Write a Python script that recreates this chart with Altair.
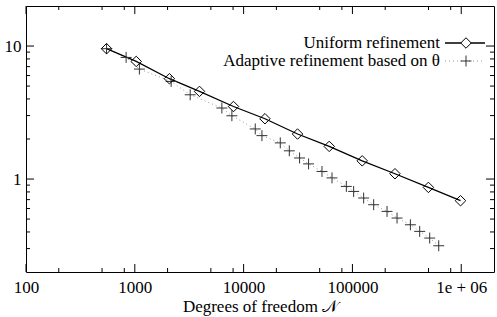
import altair as alt
import pandas as pd

# ---- data ----
uniform_dof = [550, 1030, 2080, 3930, 8070, 15700, 31300, 61200, 123000, 246000, 499000, 985000]
uniform_err = [9.55, 7.66, 5.68, 4.56, 3.51, 2.84, 2.18, 1.76, 1.37, 1.096, 0.865, 0.687]

adaptive_dof = [550, 832, 1102, 2158, 3228, 6310, 7800, 12790, 14730, 21720, 26290, 32670,
                39540, 52500, 64900, 87900, 102600, 126800, 156700, 208000, 257000, 341000,
                415000, 513000, 621000]
adaptive_err = [9.55, 8.21, 6.71, 5.42, 4.30, 3.42, 2.99, 2.38, 2.12, 1.87, 1.63, 1.44,
                1.30, 1.14, 1.02, 0.88, 0.807, 0.72, 0.641, 0.571, 0.509, 0.453,
                0.404, 0.36, 0.315]

x_major = [100, 1000, 10000, 100000, 1000000]
x_major_labels = ["100", "1000", "10000", "100000", "1e + 06"]
x_minor = [m * d for d in [100, 1000, 10000, 100000, 1000000] for m in (2, 5, 8)]
x_minor = [v for v in x_minor if v < 2000000]
y_major = [1, 10]
y_major_labels = ["1", "10"]
y_minor = [0.3, 0.4, 0.5, 0.6, 0.7, 0.8, 0.9, 2, 3, 4, 5, 6, 7, 8, 9]

legend_labels = ["Uniform refinement", "Adaptive refinement based on \u03b8"]
x_title = "Degrees of freedom \U0001D4A9"

W, H = 468, 266
FONT = "Liberation Serif"
FS = 17

uni = pd.DataFrame({"N": uniform_dof, "err": uniform_err})
ada = pd.DataFrame({"N": adaptive_dof, "err": adaptive_err})

label_expr_x = " : ".join(
    [f"datum.value == {v} ? '{l}'" for v, l in zip(x_major, x_major_labels)]
) + " : ''"
label_expr_y = " : ".join(
    [f"datum.value == {v} ? '{l}'" for v, l in zip(y_major, y_major_labels)]
) + " : ''"

xs = alt.Scale(type="log", domain=[100, 2000000], nice=False)
ys = alt.Scale(type="log", domain=[0.2, 20], nice=False)

X = alt.X("N:Q", scale=xs,
          axis=alt.Axis(values=x_major, labelExpr=label_expr_x, title=x_title,
                        ticks=False, domain=False, grid=False,
                        labelBaseline="alphabetic", labelPadding=20,
                        titleBaseline="alphabetic", titleY=39,
                        labelFont=FONT, titleFont=FONT,
                        labelFontSize=FS, titleFontSize=FS, titleFontWeight="normal",
                        labelColor="black", titleColor="black", labelFlush=False))
Y = alt.Y("err:Q", scale=ys,
          axis=alt.Axis(values=y_major, labelExpr=label_expr_y, title=None,
                        ticks=False, domain=False, grid=False, labelPadding=5,
                        labelFont=FONT, labelFontSize=FS, labelColor="black"))

uni_line = alt.Chart(uni).mark_line(color="black", strokeWidth=1.3).encode(x=X, y=Y)
uni_pts = alt.Chart(uni).mark_point(shape="diamond", size=110, filled=False,
                                    color="black", strokeWidth=1, opacity=1).encode(x=X, y=Y)
ada_line = alt.Chart(ada).mark_line(color="#9a9a9a", strokeWidth=1,
                                    strokeDash=[1, 3]).encode(x="N:Q", y="err:Q")
PLUS = "M-1,0L1,0M0,-1L0,1"
ada_pts = alt.Chart(ada).mark_point(shape=PLUS, size=120, filled=False,
                                    color="#333333", strokeWidth=1, opacity=1).encode(x="N:Q", y="err:Q")

# ---- inward ticks on all four sides ----
def xticks(vals, length):
    df = pd.DataFrame({"N": vals})
    bot = alt.Chart(df).mark_rule(color="black", strokeWidth=1).encode(
        x="N:Q", y=alt.value(H), y2=alt.value(H - length))
    top = alt.Chart(df).mark_rule(color="black", strokeWidth=1).encode(
        x="N:Q", y=alt.value(0), y2=alt.value(length))
    return [bot, top]

def yticks(vals, length):
    df = pd.DataFrame({"err": vals})
    left = alt.Chart(df).mark_rule(color="black", strokeWidth=1).encode(
        y="err:Q", x=alt.value(0), x2=alt.value(length))
    right = alt.Chart(df).mark_rule(color="black", strokeWidth=1).encode(
        y="err:Q", x=alt.value(W), x2=alt.value(W - length))
    return [left, right]

ticks = xticks(x_major, 8) + xticks(x_minor, 4) + yticks(y_major, 8) + yticks(y_minor, 4)

# ---- legend (top right, labels left of samples) ----
leg = pd.DataFrame({"label": legend_labels})
lx_text, lx0, lx1, lxm = 414, 419, 459, 440
ly = [37, 55]
leg1_text = alt.Chart(leg.iloc[[0]]).mark_text(align="right", baseline="middle", font=FONT,
                                               fontSize=FS, color="black").encode(
    text="label:N", x=alt.value(lx_text), y=alt.value(ly[0]))
leg2_text = alt.Chart(leg.iloc[[1]]).mark_text(align="right", baseline="middle", font=FONT,
                                               fontSize=FS, color="black").encode(
    text="label:N", x=alt.value(lx_text), y=alt.value(ly[1]))
leg1_line = alt.Chart(leg.iloc[[0]]).mark_rule(color="black", strokeWidth=1.3).encode(
    x=alt.value(lx0), x2=alt.value(lx1), y=alt.value(ly[0]))
leg1_pt = alt.Chart(leg.iloc[[0]]).mark_point(shape="diamond", size=110, filled=True,
                                              fill="white", stroke="black", strokeWidth=1,
                                              opacity=1).encode(
    x=alt.value(lxm), y=alt.value(ly[0]))
leg2_line = alt.Chart(leg.iloc[[1]]).mark_rule(color="#9a9a9a", strokeWidth=1,
                                               strokeDash=[1, 3]).encode(
    x=alt.value(lx0), x2=alt.value(lx1), y=alt.value(ly[1]))
leg2_pt = alt.Chart(leg.iloc[[1]]).mark_point(shape=PLUS, size=120, filled=False,
                                              color="#333333", strokeWidth=1, opacity=1).encode(
    x=alt.value(lxm), y=alt.value(ly[1]))

chart = alt.layer(
    ada_line, uni_line, ada_pts, uni_pts, *ticks,
    leg1_text, leg2_text, leg1_line, leg1_pt, leg2_line, leg2_pt
).properties(
    width=W, height=H,
    autosize=alt.AutoSizeParams(type="none"),
    padding={"left": 26, "top": 6, "right": 3, "bottom": 45},
    background="white",
).configure_view(stroke="black", strokeWidth=1)

chart.save("out.html", embed_options={"renderer": "svg", "actions": False})
